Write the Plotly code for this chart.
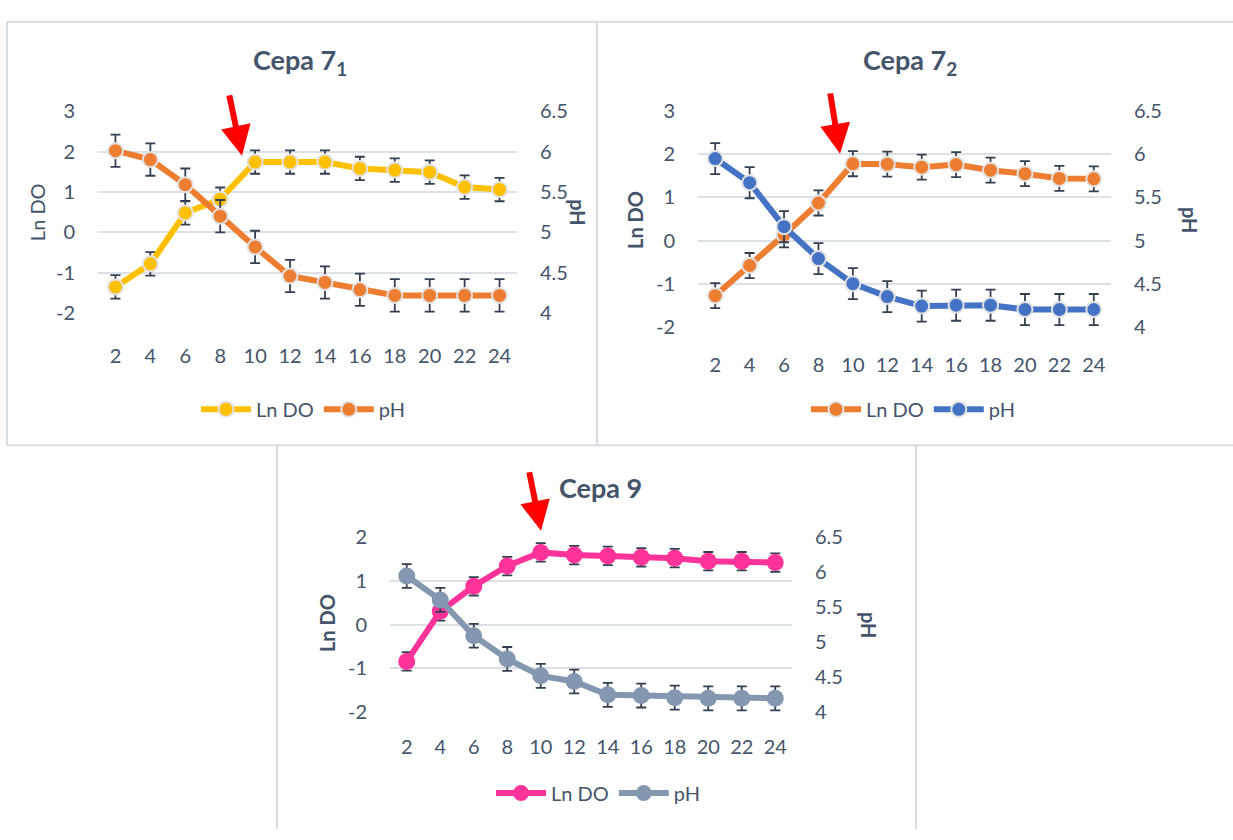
import plotly.graph_objects as go

# ---------------- data ----------------
hours = [2, 4, 6, 8, 10, 12, 14, 16, 18, 20, 22, 24]
hour_labels = ["2", "4", "6", "8", "10", "12", "14", "16", "18", "20", "22", "24"]

# Cepa 7_1
ln_do_71 = [-1.35, -0.78, 0.48, 0.82, 1.74, 1.74, 1.74, 1.58, 1.54, 1.49, 1.12, 1.06]
ln_do_71_err = [0.29, 0.29, 0.29, 0.29, 0.29, 0.29, 0.29, 0.29, 0.29, 0.29, 0.29, 0.29]
ph_71 = [6.01, 5.90, 5.59, 5.20, 4.82, 4.46, 4.38, 4.29, 4.22, 4.22, 4.22, 4.22]
ph_71_err = [0.20, 0.20, 0.20, 0.20, 0.20, 0.20, 0.20, 0.20, 0.20, 0.20, 0.20, 0.20]

# Cepa 7_2
ln_do_72 = [-1.28, -0.58, 0.13, 0.87, 1.78, 1.77, 1.70, 1.76, 1.63, 1.55, 1.44, 1.43]
ln_do_72_err = [0.29, 0.29, 0.29, 0.29, 0.29, 0.29, 0.29, 0.29, 0.29, 0.29, 0.29, 0.29]
ph_72 = [5.95, 5.67, 5.16, 4.79, 4.50, 4.35, 4.24, 4.25, 4.25, 4.20, 4.20, 4.20]
ph_72_err = [0.18, 0.18, 0.18, 0.18, 0.18, 0.18, 0.18, 0.18, 0.18, 0.18, 0.18, 0.18]

# Cepa 9
ln_do_9 = [-0.84, 0.30, 0.87, 1.33, 1.64, 1.58, 1.56, 1.53, 1.51, 1.44, 1.44, 1.41]
ln_do_9_err = [0.21, 0.21, 0.21, 0.21, 0.21, 0.21, 0.21, 0.21, 0.21, 0.21, 0.21, 0.21]
ph_9 = [5.94, 5.60, 5.09, 4.76, 4.52, 4.44, 4.25, 4.24, 4.21, 4.20, 4.20, 4.20]
ph_9_err = [0.17, 0.17, 0.17, 0.17, 0.17, 0.17, 0.17, 0.17, 0.17, 0.17, 0.17, 0.17]

left_ticks_a = [-2, -1, 0, 1, 2, 3]
left_ticks_b = [-2, -1, 0, 1, 2]
right_ticks = [4, 4.5, 5, 5.5, 6, 6.5]

# ---------------- styling ----------------
W, H = 1233, 840
FONT = "Lato"
TXT = "#44546a"
GRID = "#dde1e6"
ERR = "#333f50"
TICKSIZE = 20


def px(x):
    return x / W


def py(y):
    return 1 - y / H


panels = [
    dict(title="<b>Cepa 7<sub>1</sub></b>", tpos=(300, 50),
         xdom=(98, 517), ydom=(101, 309), lrange=(-2, 3), lticks=left_ticks_a,
         ln=ln_do_71, lnerr=ln_do_71_err, ph=ph_71, pherr=ph_71_err,
         lncol="#FFC000", phcol="#ED7D31", msize=15, mline="#e2e2e2", lw=6,
         xticklen=25, lnlab=("Ln DO", 37, 205), phlab=(578, 205),
         legpos=(303, 408), arrow=(242, 147, -13, -62)),
    dict(title="<b>Cepa 7<sub>2</sub></b>", tpos=(910, 50),
         xdom=(698, 1111), ydom=(101, 323), lrange=(-2, 3), lticks=left_ticks_a,
         ln=ln_do_72, lnerr=ln_do_72_err, ph=ph_72, pherr=ph_72_err,
         lncol="#ED7D31", phcol="#4472C4", msize=15, mline="#e2e2e2", lw=6,
         xticklen=20, lnlab=("<b>Ln DO</b>", 635, 213), phlab=(1190, 213),
         legpos=(913, 408), arrow=(840, 145, -10, -62)),
    dict(title="<b>Cepa 9</b>", tpos=(600, 488),
         xdom=(390, 792), ydom=(539, 720), lrange=(-2, 2), lticks=left_ticks_b,
         ln=ln_do_9, lnerr=ln_do_9_err, ph=ph_9, pherr=ph_9_err,
         lncol="#FF3399", phcol="#8497B0", msize=17, mline=None, lw=6,
         xticklen=17, lnlab=("<b>Ln DO</b>", 327, 628), phlab=(869, 630),
         legpos=(598, 803), arrow=(541, 533, -12, -60)),
]

fig = go.Figure()
annotations = []
layout_axes = {}

for i, p in enumerate(panels):
    k = i + 1
    xa = "x" if k == 1 else f"x{k}"
    ya_l = "y" if k == 1 else f"y{2 * k - 1}"
    ya_r = f"y{2 * k}"
    leg = "legend" if k == 1 else f"legend{k}"

    mline_l = dict(color=p["mline"], width=2) if p["mline"] else dict(color=p["lncol"], width=0)
    mline_r = dict(color=p["mline"], width=2) if p["mline"] else dict(color=p["phcol"], width=0)

    fig.add_trace(go.Scatter(
        x=hours, y=p["ln"], name="Ln DO", mode="lines+markers",
        line=dict(color=p["lncol"], width=p["lw"]),
        marker=dict(size=p["msize"], color=p["lncol"], line=mline_l),
        error_y=dict(type="data", array=p["lnerr"], color=ERR, thickness=1.8, width=5),
        xaxis=xa, yaxis=ya_l, legend=leg, cliponaxis=False,
    ))
    fig.add_trace(go.Scatter(
        x=hours, y=p["ph"], name="pH", mode="lines+markers",
        line=dict(color=p["phcol"], width=p["lw"]),
        marker=dict(size=p["msize"], color=p["phcol"], line=mline_r),
        error_y=dict(type="data", array=p["pherr"], color=ERR, thickness=1.8, width=5),
        xaxis=xa, yaxis=ya_r, legend=leg, cliponaxis=False,
    ))

    xkey = "xaxis" if k == 1 else f"xaxis{k}"
    ylkey = "yaxis" if k == 1 else f"yaxis{2 * k - 1}"
    yrkey = f"yaxis{2 * k}"

    layout_axes[xkey] = dict(
        domain=[px(p["xdom"][0]), px(p["xdom"][1])], anchor=ya_l,
        range=[1, 25], tickvals=hours, ticktext=hour_labels,
        showgrid=False, zeroline=False, showline=False,
        ticks="outside", ticklen=p["xticklen"], tickcolor="rgba(0,0,0,0)",
        tickfont=dict(family=FONT, size=TICKSIZE, color=TXT), fixedrange=True,
    )
    layout_axes[ylkey] = dict(
        domain=[py(p["ydom"][1]), py(p["ydom"][0])], anchor=xa,
        range=list(p["lrange"]), tickvals=p["lticks"],
        ticktext=[str(v) for v in p["lticks"]],
        showgrid=True, gridcolor=GRID, gridwidth=2, zeroline=False, showline=False,
        ticks="outside", ticklen=18, tickcolor="rgba(0,0,0,0)",
        tickfont=dict(family=FONT, size=TICKSIZE, color=TXT),
    )
    layout_axes[yrkey] = dict(
        overlaying=ya_l, side="right", anchor=xa,
        range=[4, 6.5], tickvals=right_ticks,
        ticktext=[("%g" % v) for v in right_ticks],
        showgrid=False, zeroline=False, showline=False,
        ticks="outside", ticklen=18, tickcolor="rgba(0,0,0,0)",
        tickfont=dict(family=FONT, size=TICKSIZE, color=TXT),
    )

    # legend
    layout_axes[leg] = dict(
        orientation="h", x=px(p["legpos"][0]), y=py(p["legpos"][1]),
        xanchor="center", yanchor="middle", bgcolor="rgba(0,0,0,0)",
        font=dict(family=FONT, size=20, color=TXT), itemwidth=50,
        traceorder="normal",
    )

    # title
    annotations.append(dict(
        text=p["title"], x=px(p["tpos"][0]), y=py(p["tpos"][1]),
        xref="paper", yref="paper", showarrow=False,
        xanchor="center", yanchor="middle",
        font=dict(family=FONT, size=27, color=TXT),
    ))
    # axis titles
    lab, lx, ly = p["lnlab"]
    annotations.append(dict(
        text=lab, x=px(lx), y=py(ly), xref="paper", yref="paper",
        showarrow=False, textangle=-90, xanchor="center", yanchor="middle",
        font=dict(family=FONT, size=20, color=TXT),
    ))
    annotations.append(dict(
        text="<b>pH</b>", x=px(p["phlab"][0]), y=py(p["phlab"][1]),
        xref="paper", yref="paper", showarrow=False, textangle=90,
        xanchor="center", yanchor="middle",
        font=dict(family=FONT, size=20, color=TXT),
    ))
    # red arrow (tip given in page pixels)
    tx, ty, dx, dy = p["arrow"]
    annotations.append(dict(
        x=px(tx), y=py(ty), xref="paper", yref="paper", text="", showarrow=True,
        ax=dx, ay=dy, arrowcolor="#FF0000", arrowwidth=6,
        arrowhead=2, arrowsize=1.0, standoff=0,
    ))

# panel borders
BORDER = "#d9dde3"
shapes = [
    dict(type="line", x0=px(7), x1=px(1233), y0=py(9), y1=py(9)),
    dict(type="line", x0=px(7), x1=px(1233), y0=py(445), y1=py(445)),
    dict(type="line", x0=px(7), x1=px(7), y0=py(9), y1=py(445)),
    dict(type="line", x0=px(597), x1=px(597), y0=py(9), y1=py(445)),
    dict(type="line", x0=px(277), x1=px(277), y0=py(445), y1=py(840)),
    dict(type="line", x0=px(916), x1=px(916), y0=py(445), y1=py(840)),
]
for s in shapes:
    s.update(xref="paper", yref="paper", line=dict(color=BORDER, width=2))

fig.update_layout(
    width=W, height=H, margin=dict(l=0, r=0, t=0, b=0),
    paper_bgcolor="white", plot_bgcolor="white",
    annotations=annotations, shapes=shapes, showlegend=True,
    **layout_axes,
)

fig.write_html(
    "out.html",
    config=dict(displayModeBar=False),
    post_script="document.body.style.margin='0';document.body.style.overflow='hidden';",
)
